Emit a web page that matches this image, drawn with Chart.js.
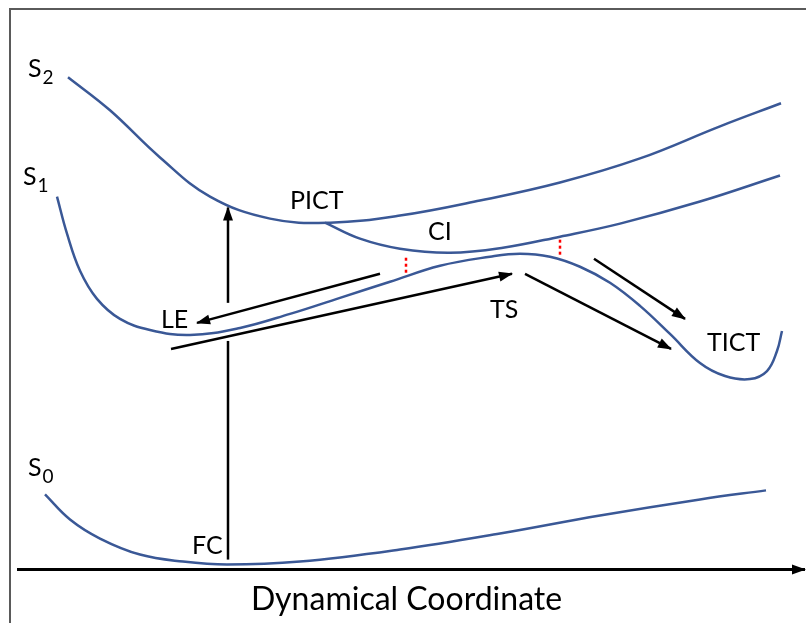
<!DOCTYPE html>
<html>
<head>
<meta charset="utf-8">
<script src="https://cdn.jsdelivr.net/npm/chart.js@4"></script>
<style>
  body { margin: 0; background: #fff; }
  #wrap { position: relative; width: 806px; height: 623px; }
  #frame { position: absolute; left: 9px; top: 8px; right: 0; bottom: 0;
           border-top: 2px solid #5a5a5a; border-left: 2px solid #5a5a5a; pointer-events: none; }
</style>
</head>
<body>
<div id="wrap">
  <canvas id="diagram" width="806" height="623"></canvas>
  <div id="frame"></div>
</div>
<script>
// x = dynamical coordinate, y = energy (arbitrary units)
var s2X = [68, 110, 160, 210, 270, 330, 400, 480, 560, 640, 720, 781];
var s2Y = [491, 458, 411, 372, 350, 346, 353, 368, 386, 410, 442, 465];

var s1UpperX = [325, 360, 400, 450, 503, 560, 620, 700, 780];
var s1UpperY = [346, 330, 320, 316, 321, 332, 345, 367, 393];

var s1LowerX = [57, 67, 80, 97, 120, 150, 190, 240, 290, 340, 390, 440, 490, 520, 550, 580, 610, 640, 670, 700, 725, 750, 767, 777, 782];
var s1LowerY = [372, 335, 298, 270, 250, 239, 234, 241, 255, 271, 287, 303, 312, 315, 312, 302, 286, 263, 235, 206, 193, 190, 198, 218, 238];

var s0X = [45, 70, 100, 140, 183, 227, 300, 400, 500, 600, 700, 766];
var s0Y = [75, 50, 31, 15, 8, 5, 8, 20, 36, 54, 70, 79];

// arrows: [x0, y0, x1, y1], head at the second point
var axisArrow = [17, 0, 805, 0];
var excitationLow = [228, 10, 228, 228];
var excitationHigh = [228, 266, 228, 361];
var leArrow = [380, 295, 197, 246];
var longArrow = [171, 220, 512, 295];
var tsArrow = [525, 295, 671, 220];
var tictArrow = [594, 310, 685, 250];

// red dotted gaps
var gapLeft = [406, 311, 406, 295];
var gapRight = [560, 329, 560, 313];

var labelText = ["PICT", "CI", "LE", "TS", "TICT", "FC"];
var labelX = [290, 428, 161, 490, 707, 192];
var labelY = [360, 329, 241, 251, 218, 16];

var stateNames = ["S", "S", "S"];
var stateSubs = ["2", "1", "0"];
var stateX = [28, 23, 28];
var stateY = [491, 384, 93];

var blue = "#3a5896";

function toPoints(xs, ys) {
    return xs.map(function (x, i) { return {x: x, y: ys[i]}; });
}

function curve(xs, ys) {
    return {
        data: toPoints(xs, ys),
        borderColor: blue,
        borderWidth: 2.5,
        pointRadius: 0,
        tension: 0.4,
        showLine: true,
        clip: false
    };
}

function arrow(seg, head, width) {
    return {
        data: [{x: seg[0], y: seg[1]}, {x: seg[2], y: seg[3]}],
        borderColor: "#000",
        borderWidth: width || 2.5,
        pointRadius: 0,
        showLine: true,
        clip: false,
        arrowHead: head
    };
}

function dotted(seg) {
    return {
        data: [{x: seg[0], y: seg[1]}, {x: seg[2], y: seg[3]}],
        borderColor: "#ff0000",
        borderWidth: 2.5,
        borderDash: [3, 3],
        pointRadius: 0,
        showLine: true,
        clip: false
    };
}

var arrowHeads = {
    id: 'arrowHeads',
    afterDatasetsDraw: function (chart) {
        var ctx = chart.ctx;
        chart.data.datasets.forEach(function (ds, i) {
            if (!ds.arrowHead) return;
            var pts = chart.getDatasetMeta(i).data;
            var a = pts[pts.length - 2], b = pts[pts.length - 1];
            var ang = Math.atan2(b.y - a.y, b.x - a.x);
            var len = 13, half = 5;
            ctx.save();
            ctx.translate(b.x, b.y);
            ctx.rotate(ang);
            ctx.beginPath();
            ctx.moveTo(1, 0);
            ctx.lineTo(-len, -half);
            ctx.lineTo(-len, half);
            ctx.closePath();
            ctx.fillStyle = "#000";
            ctx.fill();
            ctx.restore();
        });
    }
};

var textLabels = {
    id: 'textLabels',
    afterDraw: function (chart) {
        var ctx = chart.ctx;
        var xs = chart.scales.x, ys = chart.scales.y;
        ctx.save();
        ctx.fillStyle = "#000";
        ctx.textBaseline = 'alphabetic';
        ctx.textAlign = 'left';
        ctx.font = "25px Lato";
        labelText.forEach(function (t, i) {
            ctx.fillText(t, xs.getPixelForValue(labelX[i]), ys.getPixelForValue(labelY[i]));
        });
        stateNames.forEach(function (t, i) {
            var px = xs.getPixelForValue(stateX[i]);
            var py = ys.getPixelForValue(stateY[i]);
            ctx.font = "25px Lato";
            ctx.fillText(t, px, py);
            var w = ctx.measureText(t).width;
            ctx.font = "19px Lato";
            ctx.fillText(stateSubs[i], px + w + 1, py + 7);
        });
        ctx.restore();
    }
};

var datasets = [
    curve(s2X, s2Y),
    curve(s1UpperX, s1UpperY),
    curve(s1LowerX, s1LowerY),
    curve(s0X, s0Y),
    arrow(axisArrow, true, 3),
    arrow(excitationLow, false),
    arrow(excitationHigh, true),
    arrow(leArrow, true),
    arrow(longArrow, true),
    arrow(tsArrow, true),
    arrow(tictArrow, true),
    dotted(gapLeft),
    dotted(gapRight)
];

new Chart(document.getElementById("diagram").getContext('2d'), {
    type: 'scatter',
    data: {datasets: datasets},
    options: {
        responsive: false,
        animation: false,
        devicePixelRatio: 1,
        layout: {padding: {left: 17, right: 10, top: 0, bottom: 0}},
        plugins: {legend: {display: false}, tooltip: {enabled: false}},
        scales: {
            x: {
                type: 'linear', min: 17, max: 796,
                grid: {display: false},
                ticks: {display: false},
                border: {display: false},
                title: {
                    display: true,
                    text: "Dynamical Coordinate",
                    color: "#000",
                    font: {family: "Lato", size: 32},
                    padding: {top: 3, bottom: 4}
                }
            },
            y: {
                type: 'linear', min: 0, max: 568,
                display: false
            }
        }
    },
    plugins: [arrowHeads, textLabels]
});
</script>
</body>
</html>
